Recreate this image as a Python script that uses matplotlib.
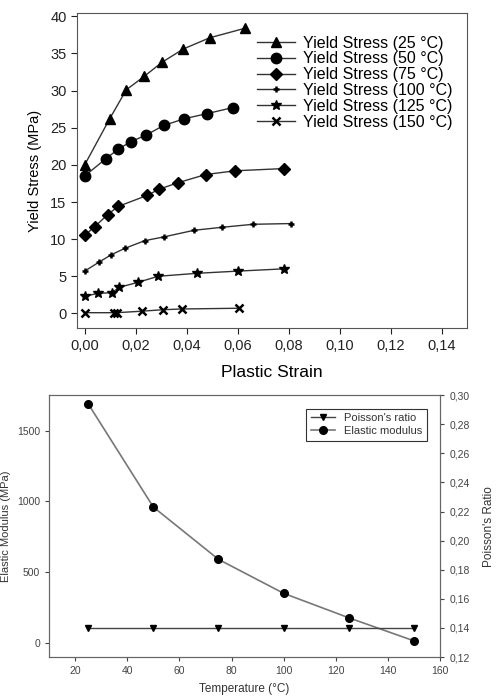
import numpy as np
import matplotlib
matplotlib.use("Agg")
import matplotlib.pyplot as plt
from matplotlib.ticker import FuncFormatter

plt.rcParams['font.family'] = ['Liberation Sans', 'DejaVu Sans']

# yield stress curves
strain_25 = [0.0, 0.0098, 0.0163, 0.0233, 0.0303, 0.0387, 0.049, 0.063]
stress_25 = [20.0, 26.2, 30.1, 31.9, 33.8, 35.6, 37.1, 38.4]
strain_50 = [0.0, 0.0082, 0.0131, 0.018, 0.024, 0.031, 0.039, 0.048, 0.058]
stress_50 = [18.5, 20.8, 22.1, 23.1, 24.0, 25.3, 26.2, 26.9, 27.7]
strain_75 = [0.0, 0.004, 0.009, 0.0131, 0.0246, 0.029, 0.0366, 0.0475, 0.059, 0.078]
stress_75 = [10.5, 11.7, 13.3, 14.4, 15.9, 16.7, 17.6, 18.7, 19.2, 19.5]
strain_100 = [0.0, 0.0056, 0.0104, 0.016, 0.0236, 0.031, 0.043, 0.054, 0.066, 0.081]
stress_100 = [5.7, 6.9, 7.9, 8.8, 9.8, 10.3, 11.2, 11.6, 12.0, 12.1]
strain_125 = [0.0, 0.0051, 0.0108, 0.0134, 0.021, 0.0288, 0.0439, 0.0602, 0.078]
stress_125 = [2.3, 2.7, 2.8, 3.5, 4.2, 5.0, 5.4, 5.7, 6.0]
strain_150 = [0.0, 0.0115, 0.0125, 0.0223, 0.0306, 0.038, 0.0606]
stress_150 = [0.1, 0.1, 0.1, 0.3, 0.5, 0.6, 0.7]

# elastic modulus / poisson's ratio vs temperature
temps = [25, 50, 75, 100, 125, 150]
elastic_modulus = [1690, 960, 590, 350, 177, 14]
poisson_ratio = [0.14, 0.14, 0.14, 0.14, 0.14, 0.14]

fig = plt.figure(figsize=(4.97, 7.0), dpi=100)

# ---- top plot ----
ax1 = fig.add_axes([0.155, 0.531, 0.785, 0.45])
series = [
    (strain_25, stress_25, '^', 7.5, "Yield Stress (25 °C)"),
    (strain_50, stress_50, 'o', 7.5, "Yield Stress (50 °C)"),
    (strain_75, stress_75, 'D', 6, "Yield Stress (75 °C)"),
    (strain_100, stress_100, '+', 5, "Yield Stress (100 °C)"),
    (strain_125, stress_125, '*', 7.5, "Yield Stress (125 °C)"),
    (strain_150, stress_150, 'x', 5.5, "Yield Stress (150 °C)"),
]
for x, y, m, ms, lab in series:
    mew = 1.8 if m in ['+', 'x'] else 1
    ax1.plot(x, y, color='#333333', lw=1, marker=m, ms=ms, mfc='black',
             mec='black', mew=mew, label=lab)

ax1.set_xlim(-0.003, 0.15)
ax1.set_ylim(-2, 40.4)
ax1.set_xticks(np.arange(0, 0.141, 0.02))
ax1.set_yticks(np.arange(0, 41, 5))
ax1.xaxis.set_major_formatter(FuncFormatter(lambda v, p: ("%.2f" % v).replace('.', ',')))
ax1.tick_params(direction='out', length=4, labelsize=10.5, colors='#222222')
ax1.set_xlabel("Plastic Strain", fontsize=12.5, labelpad=9)
ax1.set_ylabel("Yield Stress (MPa)", fontsize=10.5, labelpad=6)
for s in ax1.spines.values():
    s.set_color('#555555')
ax1.legend(loc='upper right', frameon=False, fontsize=11.5, handlelength=2.4,
           labelspacing=0.05, handletextpad=0.5, borderaxespad=0.5,
           bbox_to_anchor=(1.0, 0.975))

# ---- bottom plot ----
ax2 = fig.add_axes([0.0986, 0.0614, 0.787, 0.374])
ax3 = ax2.twinx()
l1, = ax3.plot(temps, poisson_ratio, color='#444444', lw=1, marker='v', ms=5,
               mfc='black', mec='black', label="Poisson's ratio")
l2, = ax2.plot(temps, elastic_modulus, color='#777777', lw=1.2, marker='o', ms=5.5,
               mfc='black', mec='black', label="Elastic modulus")

ax2.set_xlim(10, 160)
ax2.set_ylim(-100, 1750)
ax2.set_xticks(np.arange(20, 161, 20))
ax2.set_yticks([0, 500, 1000, 1500])
ax3.set_ylim(0.12, 0.30)
ax3.set_yticks(np.arange(0.12, 0.301, 0.02))
ax3.yaxis.set_major_formatter(FuncFormatter(lambda v, p: ("%.2f" % v).replace('.', ',')))
for a in (ax2, ax3):
    a.tick_params(direction='out', length=3, labelsize=7.5, colors='#444444')
    for s in a.spines.values():
        s.set_color('#666666')
ax2.set_xlabel("Temperature (°C)", fontsize=8.5, color='#333333', labelpad=5)
ax2.set_ylabel("Elastic Modulus (MPa)", fontsize=8, color='#333333')
ax2.yaxis.set_label_coords(-0.096, 0.5)
ax3.set_ylabel("Poisson's Ratio", fontsize=8.5, color='#333333', labelpad=10)

leg = ax2.legend([l1, l2], ["Poisson's ratio", "Elastic modulus"], loc='upper right',
                 fontsize=8, fancybox=False, framealpha=1, edgecolor='#333333',
                 handlelength=2.2, borderaxespad=1.2, labelspacing=0.3)
leg.get_frame().set_linewidth(0.8)
for t in leg.get_texts():
    t.set_color('#333333')

fig.savefig("out.png", dpi=100)
